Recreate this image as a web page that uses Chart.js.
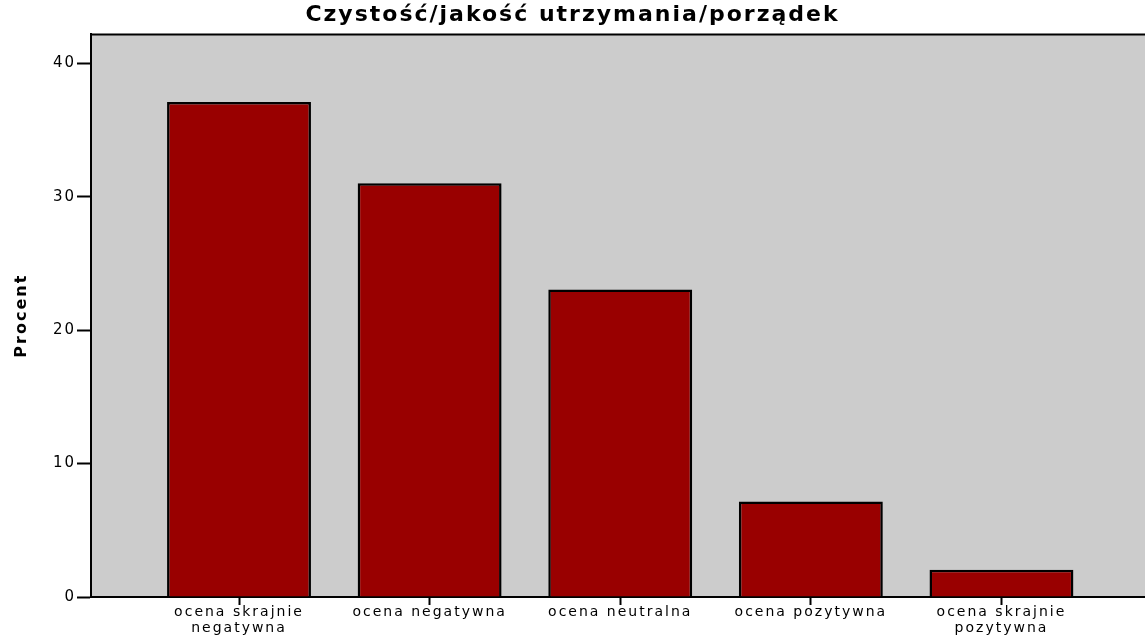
<!DOCTYPE html>
<html lang="pl">

<head>
    <meta charset="UTF-8">
    <script src="https://cdn.jsdelivr.net/npm/chart.js@4.4.0/dist/chart.umd.min.js"></script>
    <title>Czystość/jakość utrzymania/porządek</title>
    <style>
        html, body { margin: 0; padding: 0; background: #fff; }
        #wrap { width: 1145px; height: 641px; }
    </style>
</head>

<body>
    <div id="wrap"><canvas id="myChart" width="1145" height="641"></canvas></div>
    <script>
        // data
        const categories = [
            ['ocena skrajnie', 'negatywna'],
            'ocena negatywna',
            'ocena neutralna',
            'ocena pozytywna',
            ['ocena skrajnie', 'pozytywna']
        ];
        const percents = [37.1, 31.0, 23.05, 7.16, 2.04];
        const yTicks = [0, 10, 20, 30, 40];

        const points = percents.map((v, i) => ({ x: i, y: v }));

        // grey plot background and the top frame line
        const plotFrame = {
            id: 'plotFrame',
            beforeUpdate(chart) { chart.ctx.letterSpacing = '2px'; },
            beforeDraw(chart) {
                const { ctx, chartArea: a } = chart;
                ctx.letterSpacing = '2px';
                ctx.save();
                ctx.fillStyle = '#cccccc';
                ctx.fillRect(a.left, a.top, a.right - a.left, a.bottom - a.top);
                ctx.strokeStyle = '#000';
                ctx.lineWidth = 2;
                ctx.beginPath();
                ctx.moveTo(a.left, a.top);
                ctx.lineTo(a.right, a.top);
                ctx.stroke();
                ctx.restore();
            }
        };

        var ctx = document.getElementById('myChart').getContext('2d');
        var myChart = new Chart(ctx, {
            type: 'bar',
            data: {
                datasets: [{
                    label: 'Procent',
                    data: points,
                    backgroundColor: '#990000',
                    borderColor: '#000000',
                    borderWidth: 2.5,
                    borderSkipped: 'bottom',
                    barPercentage: 0.755,
                    categoryPercentage: 1
                }]
            },
            plugins: [plotFrame],
            options: {
                responsive: false,
                animation: false,
                layout: { padding: 0 },
                plugins: {
                    legend: { display: false },
                    tooltip: { enabled: false },
                    title: {
                        display: true,
                        text: 'Czystość/jakość utrzymania/porządek',
                        color: '#000',
                        font: { family: 'DejaVu Sans', size: 22, weight: 'bold', lineHeight: 1.2 },
                        padding: { top: 2, bottom: 6 }
                    }
                },
                scales: {
                    x: {
                        type: 'linear',
                        offset: false,
                        min: -0.7765,
                        max: 4.753,
                        afterBuildTicks: s => { s.ticks = categories.map((c, i) => ({ value: i })); },
                        afterFit: s => { s.height = 44; },
                        border: { display: true, color: '#000', width: 2 },
                        grid: {
                            offset: false,
                            drawOnChartArea: false,
                            drawTicks: true,
                            tickLength: 8,
                            tickColor: '#000',
                            tickWidth: 2
                        },
                        ticks: {
                            color: '#000',
                            padding: 0,
                            maxRotation: 0,
                            autoSkip: false,
                            font: { family: 'DejaVu Sans', size: 14, lineHeight: 1.1 },
                            callback: v => categories[v]
                        }
                    },
                    y: {
                        min: 0,
                        max: 42.16,
                        afterBuildTicks: s => { s.ticks = yTicks.map(v => ({ value: v })); },
                        afterFit: s => { s.width = 91; },
                        border: { display: true, color: '#000', width: 2 },
                        grid: {
                            drawOnChartArea: false,
                            drawTicks: true,
                            tickLength: 14,
                            tickColor: '#000',
                            tickWidth: 2
                        },
                        ticks: {
                            color: '#000',
                            padding: 1,
                            font: { family: 'DejaVu Sans', size: 15 }
                        },
                        title: {
                            display: true,
                            text: 'Procent',
                            color: '#000',
                            font: { family: 'DejaVu Sans', size: 16, weight: 'bold', lineHeight: 1.2 },
                            padding: { top: 12, bottom: 0 }
                        }
                    }
                }
            }
        });
    </script>
</body>

</html>
